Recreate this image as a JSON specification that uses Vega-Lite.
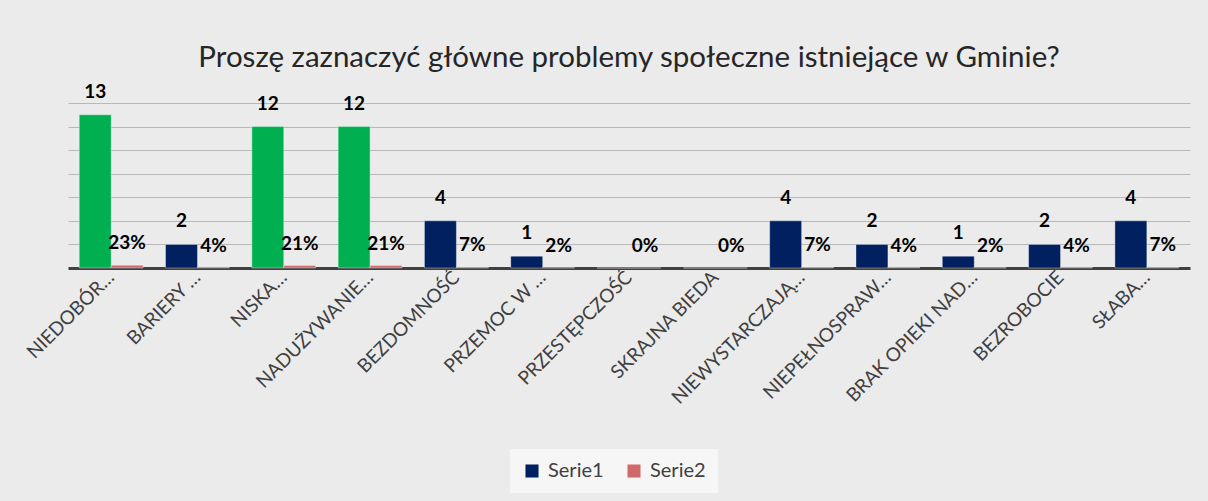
{
  "$schema": "https://vega.github.io/schema/vega-lite/v6.json",
  "width": 1122,
  "height": 165,
  "autosize": {"type": "none"},
  "padding": {"top": 103, "left": 68, "right": 18, "bottom": 233},
  "background": "#ebebeb",
  "title": {
    "text": "Proszę zaznaczyć główne problemy społeczne istniejące w Gminie?",
    "font": "Lato",
    "fontSize": 29.5,
    "fontWeight": "normal",
    "color": "#262626",
    "anchor": "middle",
    "baseline": "alphabetic",
    "offset": -14
  },
  "config": {
    "view": {"stroke": null},
    "font": "Lato"
  },
  "data": {
    "values": [
      {"kategoria": "NIEDOBÓR…", "seria": "Serie1", "wartosc": 13},
      {"kategoria": "NIEDOBÓR…", "seria": "Serie2", "wartosc": 0.23},
      {"kategoria": "BARIERY …", "seria": "Serie1", "wartosc": 2},
      {"kategoria": "BARIERY …", "seria": "Serie2", "wartosc": 0.04},
      {"kategoria": "NISKA…", "seria": "Serie1", "wartosc": 12},
      {"kategoria": "NISKA…", "seria": "Serie2", "wartosc": 0.21},
      {"kategoria": "NADUŻYWANIE…", "seria": "Serie1", "wartosc": 12},
      {"kategoria": "NADUŻYWANIE…", "seria": "Serie2", "wartosc": 0.21},
      {"kategoria": "BEZDOMNOŚĆ", "seria": "Serie1", "wartosc": 4},
      {"kategoria": "BEZDOMNOŚĆ", "seria": "Serie2", "wartosc": 0.07},
      {"kategoria": "PRZEMOC W …", "seria": "Serie1", "wartosc": 1},
      {"kategoria": "PRZEMOC W …", "seria": "Serie2", "wartosc": 0.02},
      {"kategoria": "PRZESTĘPCZOŚĆ", "seria": "Serie1", "wartosc": 0},
      {"kategoria": "PRZESTĘPCZOŚĆ", "seria": "Serie2", "wartosc": 0},
      {"kategoria": "SKRAJNA BIEDA", "seria": "Serie1", "wartosc": 0},
      {"kategoria": "SKRAJNA BIEDA", "seria": "Serie2", "wartosc": 0},
      {"kategoria": "NIEWYSTARCZAJĄ…", "seria": "Serie1", "wartosc": 4},
      {"kategoria": "NIEWYSTARCZAJĄ…", "seria": "Serie2", "wartosc": 0.07},
      {"kategoria": "NIEPEŁNOSPRAW…", "seria": "Serie1", "wartosc": 2},
      {"kategoria": "NIEPEŁNOSPRAW…", "seria": "Serie2", "wartosc": 0.04},
      {"kategoria": "BRAK OPIEKI NAD…", "seria": "Serie1", "wartosc": 1},
      {"kategoria": "BRAK OPIEKI NAD…", "seria": "Serie2", "wartosc": 0.02},
      {"kategoria": "BEZROBOCIE", "seria": "Serie1", "wartosc": 2},
      {"kategoria": "BEZROBOCIE", "seria": "Serie2", "wartosc": 0.04},
      {"kategoria": "SŁABA…", "seria": "Serie1", "wartosc": 4},
      {"kategoria": "SŁABA…", "seria": "Serie2", "wartosc": 0.07}
    ]
  },
  "encoding": {
    "x": {
      "field": "kategoria",
      "type": "nominal",
      "sort": null,
      "scale": {"paddingInner": 0.26, "paddingOuter": 0.13},
      "axis": {
        "title": null,
        "labelAngle": -45,
        "labelAlign": "right",
        "labelBaseline": "middle",
        "labelFontSize": 19,
        "labelColor": "#404040",
        "labelPadding": 6,
        "labelLimit": 300,
        "ticks": false,
        "domainColor": "#404040",
        "domainWidth": 3,
        "grid": false
      }
    },
    "xOffset": {"field": "seria", "type": "nominal", "scale": {"padding": 0}},
    "y": {
      "field": "wartosc",
      "type": "quantitative",
      "scale": {"domain": [0, 14], "nice": false},
      "axis": {
        "title": null,
        "labels": false,
        "ticks": false,
        "domain": false,
        "values": [2, 4, 6, 8, 10, 12, 14],
        "gridColor": "#b8b8b8",
        "gridWidth": 1.2
      }
    }
  },
  "layer": [
    {
      "mark": {"type": "bar", "stroke": "#ffffff", "strokeOpacity": 0.35, "strokeWidth": 1},
      "encoding": {
        "color": {
          "condition": {"test": "datum.seria === 'Serie1' && datum.wartosc >= 12", "value": "#00B050"},
          "field": "seria",
          "type": "nominal",
          "scale": {"domain": ["Serie1", "Serie2"], "range": ["#002060", "#D06A6A"]},
          "legend": {
            "title": null,
            "orient": "none",
            "legendX": 442,
            "legendY": 346,
            "direction": "horizontal",
            "symbolType": "square",
            "symbolSize": 170,
            "symbolStrokeWidth": 0,
            "labelFontSize": 20,
            "labelColor": "#404040",
            "labelOffset": 6,
            "columnPadding": 20,
            "fillColor": "#f6f6f6",
            "padding": 12
          }
        }
      }
    },
    {
      "transform": [{"filter": "datum.seria === 'Serie1' && datum.wartosc > 0"}],
      "mark": {"type": "text", "fontSize": 19, "fontWeight": "bold", "color": "#000000", "baseline": "alphabetic", "dy": -17},
      "encoding": {"text": {"field": "wartosc", "type": "quantitative", "format": "d"}}
    },
    {
      "transform": [{"filter": "datum.seria === 'Serie2'"}],
      "mark": {"type": "text", "fontSize": 19, "fontWeight": "bold", "color": "#000000", "baseline": "alphabetic", "dy": -16},
      "encoding": {"text": {"field": "wartosc", "type": "quantitative", "format": ".0%"}}
    }
  ]
}
